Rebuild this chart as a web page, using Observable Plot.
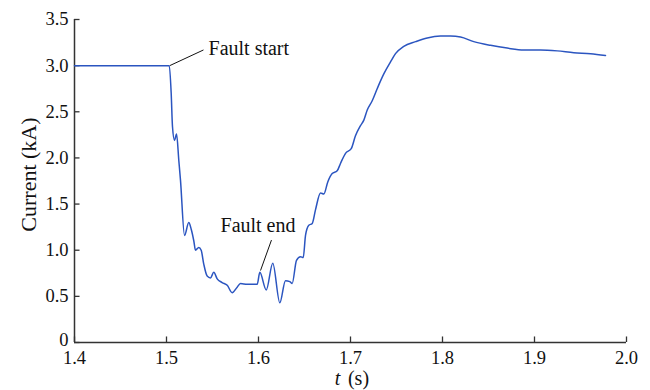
<!DOCTYPE html>
<html>
<head>
<meta charset="utf-8">
<script src="https://cdn.jsdelivr.net/npm/d3@7"></script>
<script src="https://cdn.jsdelivr.net/npm/@observablehq/plot@0.6"></script>
<style>
  html, body { margin: 0; padding: 0; background: #fff; }
  #chart svg { display: block; }
</style>
</head>
<body>
<div id="chart"></div>
<script>
// Time (s) and current (kA) of the recorded waveform
const time = [
  1.400, 1.450, 1.503, 1.5051, 1.5065, 1.5087, 1.5109, 1.5134, 1.5152, 1.5196,
  1.5242, 1.5268, 1.5297, 1.5315, 1.5351, 1.5377, 1.5405, 1.5442, 1.5478, 1.5514,
  1.5551, 1.5605, 1.5660, 1.5714, 1.5768, 1.5804, 1.5877, 1.5986, 1.6014, 1.6084,
  1.6155, 1.6232, 1.6293, 1.6340, 1.6366, 1.6413, 1.6457, 1.6486, 1.6511, 1.6547,
  1.6584, 1.6620, 1.6674, 1.6710, 1.6753, 1.6801, 1.6855, 1.6891, 1.6946, 1.7008,
  1.7054, 1.7109, 1.7145, 1.7182, 1.7236, 1.7290, 1.7362, 1.7435, 1.7489, 1.7579,
  1.7707, 1.7834, 1.7978, 1.8087, 1.8196, 1.8340, 1.8522, 1.8703, 1.8884, 1.9065,
  1.9247, 1.9427, 1.9609, 1.9772
];
const current = [
  3.00, 3.00, 3.00, 2.70, 2.34, 2.19, 2.26, 1.97, 1.76, 1.16,
  1.30, 1.23, 1.10, 1.00, 1.03, 1.00, 0.85, 0.72, 0.70, 0.76,
  0.69, 0.65, 0.62, 0.54, 0.60, 0.64, 0.63, 0.63, 0.76, 0.57,
  0.86, 0.43, 0.67, 0.66, 0.64, 0.89, 0.93, 0.92, 1.16, 1.27,
  1.29, 1.44, 1.62, 1.61, 1.74, 1.83, 1.86, 1.94, 2.05, 2.10,
  2.24, 2.35, 2.41, 2.52, 2.62, 2.75, 2.91, 3.04, 3.13, 3.21,
  3.26, 3.30, 3.32, 3.32, 3.31, 3.26, 3.22, 3.19, 3.17, 3.17,
  3.16, 3.14, 3.13, 3.11
];

// Axis ticks
const xTicks = [1.4, 1.5, 1.6, 1.7, 1.8, 1.9, 2.0];
const yTicks = [0, 0.5, 1.0, 1.5, 2.0, 2.5, 3.0, 3.5];

// Annotations: label anchor and leader line (from curve to label)
const noteText = ["Fault start", "Fault end"];
const noteX = [1.5457, 1.5587];
const noteY = [3.18, 1.27];
const leadX1 = [1.5035, 1.6022];
const leadY1 = [3.00, 0.78];
const leadX2 = [1.5402, 1.6141];
const leadY2 = [3.17, 1.11];

const series = time.map((t, i) => ({t, I: current[i]}));
const notes = noteText.map((label, i) => ({label, x: noteX[i], y: noteY[i]}));
const leaders = noteText.map((label, i) => ({x1: leadX1[i], y1: leadY1[i], x2: leadX2[i], y2: leadY2[i]}));

const font = "Liberation Serif, Times New Roman, serif";
const axisColor = "#333";
const yFormat = d => d === 0 ? "0" : d3.format(".1f")(d);

const chart = Plot.plot({
  width: 650,
  height: 390,
  marginLeft: 74,
  marginRight: 24,
  marginTop: 19,
  marginBottom: 48,
  style: {fontFamily: font, background: "#fff"},
  x: {domain: [1.4, 2.0]},
  y: {domain: [0, 3.5]},
  marks: [
    Plot.axisX({ticks: xTicks, tickSize: 0, tickPadding: 8, tickFormat: d3.format(".1f"),
      fontSize: 18.5, label: null, color: "#111"}),
    Plot.axisY({ticks: yTicks.filter(d => d !== 0), tickSize: 0, tickPadding: 6,
      tickFormat: yFormat, fontSize: 18.5, label: null, color: "#111"}),
    // the origin label sits a touch higher so it clears the x labels
    Plot.axisY({ticks: yTicks.filter(d => d === 0), tickSize: 0, tickPadding: 6,
      tickFormat: yFormat, fontSize: 18.5, label: null, color: "#111", dy: -2}),
    // inward tick marks
    Plot.ruleX(xTicks, {y1: 0, y2: 0.06, stroke: axisColor, strokeWidth: 1.3}),
    Plot.ruleY(yTicks, {x1: 1.4, x2: 1.406, stroke: axisColor, strokeWidth: 1.3}),
    // axis lines
    Plot.ruleY([0], {x1: 1.4, x2: 2.0, stroke: axisColor, strokeWidth: 1.5}),
    Plot.ruleX([1.4], {y1: 0, y2: 3.5, stroke: axisColor, strokeWidth: 1.5}),
    // waveform
    Plot.line(series, {x: "t", y: "I", stroke: "#2b55c0", strokeWidth: 1.5, curve: "monotone-x"}),
    // annotations
    Plot.link(leaders, {x1: "x1", y1: "y1", x2: "x2", y2: "y2", stroke: "#111", strokeWidth: 1}),
    Plot.text(notes, {x: "x", y: "y", text: "label", textAnchor: "start", fontSize: 20, fill: "#111"}),
    // axis titles
    Plot.text(["Current (kA)"], {x: () => 1.4, y: () => 1.82, rotate: -90, dx: -46, fontSize: 22, fill: "#111"}),
    Plot.text(["t"], {frameAnchor: "bottom", dy: 42, dx: -13, fontSize: 20, fontStyle: "italic", fill: "#111"}),
    Plot.text(["(s)"], {frameAnchor: "bottom", dy: 42, dx: 8, fontSize: 20, fill: "#111"})
  ]
});

document.getElementById("chart").appendChild(chart);
</script>
</body>
</html>
